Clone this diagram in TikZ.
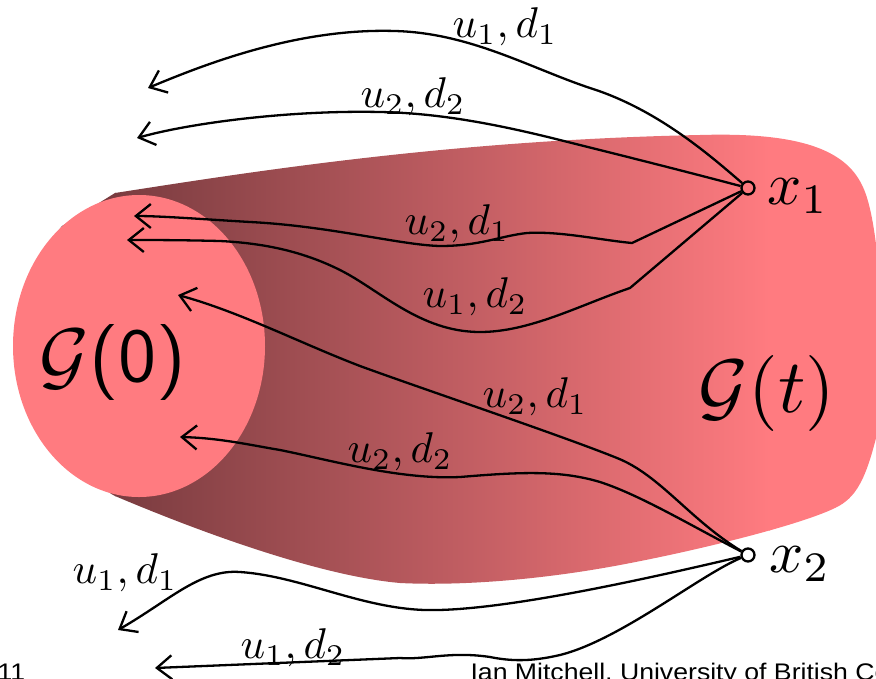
\documentclass[tikz,border=0pt]{standalone}
\usepackage{fontspec}
\newfontfamily\footfont{Liberation Sans}
\usetikzlibrary{arrows.meta}
\definecolor{gpink}{RGB}{255,123,128}
\definecolor{gdark}{RGB}{122,60,64}
\begin{document}
\begin{tikzpicture}[x=1pt,y=-1pt,
  traj/.style={line width=2.3pt,-{Straight Barb[length=15pt,width=24pt]}},
  lab/.style={scale=4.3,inner sep=0pt},
  xlab/.style={scale=6,inner sep=0pt},
  glab/.style={scale=7.6,inner sep=0pt},
  pt/.style={circle,draw,line width=2.3pt,minimum size=13pt,inner sep=0pt},
  foot/.style={font=\footfont,scale=2.4,xscale=1.11,inner sep=0pt,anchor=base west}]
\useasboundingbox (0,0) rectangle (876,678);
% target set G(t) with shading
\begin{scope}
\clip (62,226) -- (115,193) .. controls (250,172) and (450,140) .. (700,135)
  .. controls (800,132) and (845,150) .. (862,185)
  .. controls (885,230) and (885,400) .. (878,430)
  .. controls (866,480) and (856,498) .. (835,508)
  .. controls (800,525) and (700,550) .. (620,565)
  .. controls (540,580) and (460,586) .. (400,583)
  .. controls (320,576) and (200,532) .. (115,496)
  .. controls (45,460) and (30,260) .. cycle;
\fill[gdark] (0,100) rectangle (116,600);
\shade[left color=gdark,right color=gpink] (115,100) rectangle (770,600);
\fill[gpink] (769,100) rectangle (890,600);
\end{scope}
% initial set G(0)
\fill[gpink] (139,346) ellipse [x radius=126, y radius=151];
\node[glab] (g0) at (113,362) {$\mathcal{G}$\textsf{(0)}};
\node[glab] (gt) at (767,393) {$\mathcal{G}(t)$};
% points
\node[pt] (x1) at (748,188) {};
\node[pt] (x2) at (748,555) {};
\node[xlab] (lx1) at (798,196) {$x_1$};
\node[xlab] (lx2) at (800,564) {$x_2$};
% arrow tips
\coordinate (tA) at (148,88);
\coordinate (tB) at (137,138);
\coordinate (tC) at (134,216);
\coordinate (tD) at (127,240);
\coordinate (tE) at (178,295);
\coordinate (tF) at (180,437);
\coordinate (tG) at (118,630);
\coordinate (tH) at (155,668);
\coordinate (kC) at (632,243);
\coordinate (kD) at (630,288);
% trajectories from x1
\draw[traj] (x1) .. controls (715,160) and (660,110) .. (590,88)
  .. controls (530,68) and (470,33) .. (395,31)
  .. controls (300,28) and (210,62) .. (tA);
\draw[traj] (x1) .. controls (680,170) and (620,155) .. (560,140)
  .. controls (500,125) and (440,113) .. (380,112)
  .. controls (290,110) and (190,123) .. (tB);
\draw[traj] (x1) -- (kC) .. controls (600,240) and (560,231) .. (527,233)
  .. controls (500,236) and (480,246) .. (440,246)
  .. controls (400,245) and (330,226) .. (250,222)
  .. controls (200,219) and (160,216) .. (tC);
\draw[traj] (x1) -- (kD) .. controls (580,305) and (530,332) .. (480,332)
  .. controls (420,332) and (380,290) .. (340,270)
  .. controls (300,250) and (260,243) .. (220,241)
  .. controls (180,240) and (150,240) .. (tD);
% trajectories from x2
\draw[traj] (x2) .. controls (690,520) and (660,475) .. (617,458)
  .. controls (560,435) and (420,388) .. (360,366)
  .. controls (300,343) and (240,312) .. (tE);
\draw[traj] (x2) .. controls (690,525) and (640,495) .. (600,482)
  .. controls (560,470) and (520,472) .. (460,477)
  .. controls (400,480) and (330,460) .. (280,450)
  .. controls (250,445) and (220,438) .. (tF);
\draw[traj] (x2) .. controls (650,578) and (500,612) .. (425,610)
  .. controls (360,608) and (300,576) .. (240,572)
  .. controls (200,569) and (170,600) .. (tG);
\draw[traj] (x2) .. controls (700,575) and (620,640) .. (560,655)
  .. controls (530,662) and (510,661) .. (490,657)
  .. controls (450,651) and (425,660) .. (400,658) -- (tH);
% labels
\node[lab] (lA) at (505,27) {$u_1,d_1$};
\node[lab] (lB) at (413,97) {$u_2,d_2$};
\node[lab] (lC) at (457,224) {$u_2,d_1$};
\node[lab] (lD) at (475,297) {$u_1,d_2$};
\node[lab] (lE) at (535,397) {$u_2,d_1$};
\node[lab] (lF) at (400,452) {$u_2,d_2$};
\node[lab] (lG) at (125,573) {$u_1,d_1$};
\node[lab] (lH) at (293,648) {$u_1,d_2$};
% footer
\node[foot] (pg) at (-3,680) {11};
\node[foot] (au) at (470,680) {Ian Mitchell, University of British Columbia};
\end{tikzpicture}
\end{document}
